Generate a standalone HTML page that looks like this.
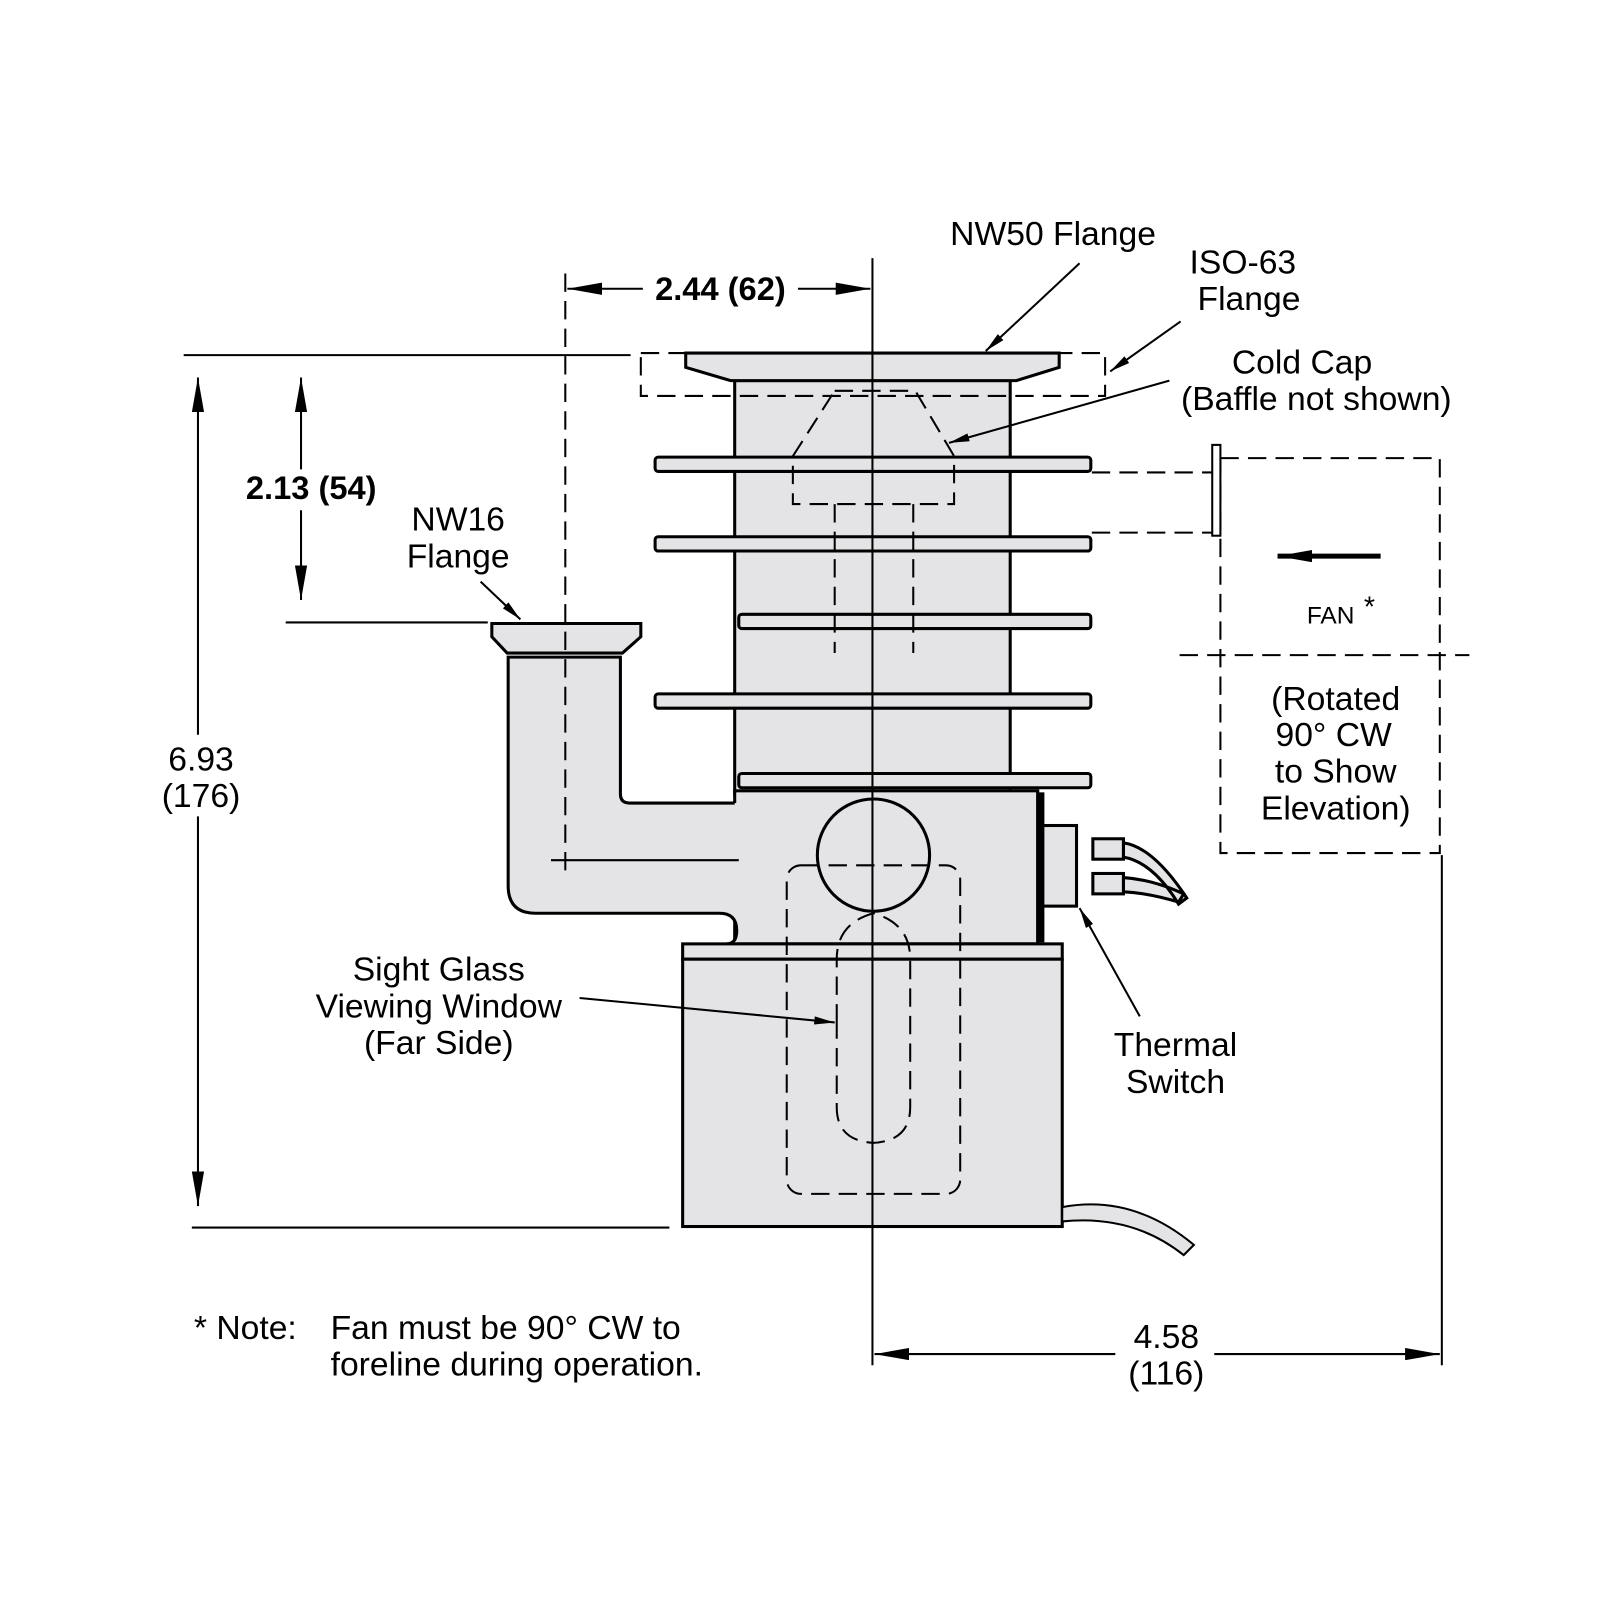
<!DOCTYPE html>
<html><head><meta charset="utf-8"><style>html,body{margin:0;padding:0;background:#fff}svg{display:block}</style></head><body>
<svg width="1600" height="1600" viewBox="0 0 1568 1568" xmlns="http://www.w3.org/2000/svg" font-family="Liberation Sans, sans-serif">
<defs><marker id="a" viewBox="0 0 20 10" refX="20" refY="5" markerWidth="20" markerHeight="10" markerUnits="userSpaceOnUse" orient="auto"><path d="M0,1 L20,5 L0,9z" fill="#000"/></marker>
<marker id="b" viewBox="0 0 34 12" refX="34" refY="6" markerWidth="34" markerHeight="12" markerUnits="userSpaceOnUse" orient="auto"><path d="M0,0 L34,6 L0,12z" fill="#000"/></marker></defs>
<g stroke="#000" stroke-width="3" fill="#e4e3e6">
<rect x="720" y="373" width="270" height="405"/>
<rect x="720" y="775" width="297" height="150" />
<path d="M498,644 H608 V778 Q608,787 617,787 H722 V925 H716 Q722,925 722,912 Q722,895 705,895 H525 Q498,895 498,868 Z" stroke="none"/>
<path d="M720,787 H617 Q608,787 608,778 V644 H498 V868 Q498,895 525,895 H705 Q722,895 722,912 Q722,925 712,925" fill="none"/>
<path d="M482,611 H628 V624 L610,640 H497 L482,624 Z"/>
<path d="M672,346 H1038 V360 L996,373 H716 L672,360 Z"/>
<rect x="642" y="448" width="427" height="14" rx="3"/>
<rect x="642" y="526" width="427" height="14" rx="3"/>
<rect x="724" y="602" width="345" height="14" rx="3"/>
<rect x="642" y="680" width="427" height="14" rx="3"/>
<rect x="724" y="758" width="345" height="14" rx="3"/>
<rect x="1017" y="778" width="5" height="144" fill="#000"/>
<circle cx="856" cy="838" r="55"/>
<rect x="669" y="925" width="372" height="15"/>
<rect x="669" y="940" width="372" height="262"/>
<rect x="1022" y="809" width="33" height="79"/>
<rect x="1071" y="822" width="30" height="20"/><rect x="1071" y="856" width="30" height="20"/>
<path d="M1101,826 Q1130,830 1163,880 L1155,886 Q1130,845 1101,840Z M1101,860 Q1130,862 1160,876 L1155,884 Q1125,875 1101,874Z"/>
<path d="M1041,1183 Q1110,1170 1170,1220 L1160,1230 Q1110,1190 1041,1197Z" stroke-width="2"/>
</g>
<g stroke="#000" stroke-width="2" fill="none" stroke-dasharray="18,9">
<rect x="628" y="346" width="455" height="42"/>
<path d="M818,383 H897 L935,447 V494 H777 V447 Z"/>
<path d="M818,494 V640 M895,494 V640"/>
<rect x="771" y="848" width="170" height="322" rx="14"/>
<path d="M820,1000 V1085 Q820,1118 856,1120 Q892,1118 892,1085 V940 Q892,905 856,895 Q820,905 820,940 Z"/>
<path d="M1070,463 H1188 M1070,522 H1195"/>
<rect x="1196" y="449" width="215" height="387"/>
<path d="M1156,642 H1440"/>
<path d="M554,268 V855"/>
</g>
<g stroke="#000" stroke-width="2" fill="none">
<path d="M855,253 V1338"/>
<rect x="1188" y="436" width="8" height="89" fill="#fff"/>
<path d="M180,348 H618 M188,1203 H656 M280,610 H478 M540,843 H724 M1413,838 V1338"/>
<path d="M194,720 V370" marker-end="url(#b)"/><path d="M194,800 V1182" marker-end="url(#b)"/>
<path d="M295,460 V370" marker-end="url(#b)"/><path d="M295,500 V588" marker-end="url(#b)"/>
<path d="M630,283 H556" marker-end="url(#b)"/><path d="M782,283 H853" marker-end="url(#b)"/>
<path d="M1093,1327 H857" marker-end="url(#b)"/><path d="M1190,1327 H1411" marker-end="url(#b)"/>
<path d="M1058,258 L966,344" marker-end="url(#a)"/>
<path d="M1157,315 L1088,364" marker-end="url(#a)"/>
<path d="M1146,373 L930,434" marker-end="url(#a)"/>
<path d="M471,570 L510,607" marker-end="url(#a)"/>
<path d="M568,978 L818,1002" marker-end="url(#a)"/>
<path d="M1117,996 L1058,890" marker-end="url(#a)"/>
<path d="M1353,545 H1252" stroke-width="5" marker-end="url(#b)"/>
</g>
<g font-size="33" fill="#000" text-anchor="middle">
<text x="1032" y="240">NW50 Flange</text>
<text x="1218" y="268">ISO-63</text><text x="1224" y="304">Flange</text>
<text x="1276" y="366">Cold Cap</text><text x="1290" y="402">(Baffle not shown)</text>
<text x="449" y="520">NW16</text><text x="449" y="556">Flange</text>
<text x="305" y="489" font-weight="bold" font-size="32">2.13 (54)</text>
<text x="706" y="294" font-weight="bold" font-size="32">2.44 (62)</text>
<text x="197" y="755">6.93</text><text x="197" y="791">(176)</text>
<text x="1309" y="696">(Rotated</text><text x="1307" y="731">90° CW</text><text x="1309" y="767">to Show</text><text x="1309" y="803">Elevation)</text>
<text x="1304" y="611" font-size="24">FAN</text><text x="1342" y="604" font-size="28">*</text>
<text x="430" y="961">Sight Glass</text><text x="430" y="997">Viewing Window</text><text x="430" y="1033">(Far Side)</text>
<text x="1152" y="1035">Thermal</text><text x="1152" y="1071">Switch</text>
<text x="1143" y="1321">4.58</text><text x="1143" y="1357">(116)</text>
<text x="190" y="1312" text-anchor="start">* Note:</text>
<text x="324" y="1312" text-anchor="start">Fan must be 90° CW to</text>
<text x="324" y="1348" text-anchor="start">foreline during operation.</text>
</g>
</svg>
</body></html>
